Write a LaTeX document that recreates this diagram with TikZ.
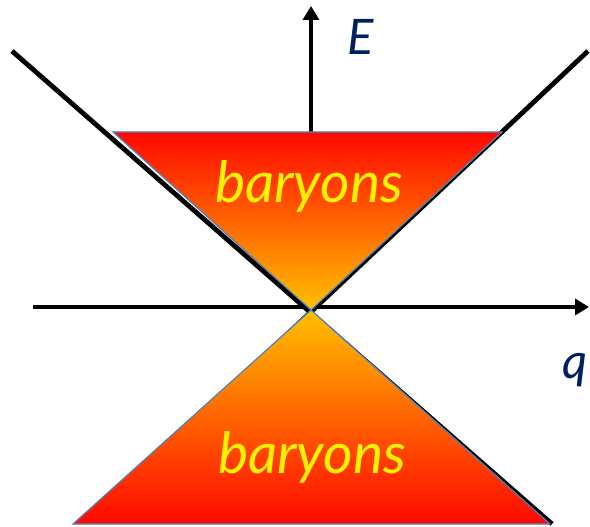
\documentclass[tikz,border=0pt]{standalone}
\usepackage{fontspec}
\setmainfont{Lato}
\usepackage{xcolor}
\usepackage{tikz}
\usetikzlibrary{arrows.meta}

\definecolor{labelblue}{RGB}{0,32,96}
\definecolor{edgeblue}{RGB}{79,129,189}
\definecolor{hotred}{RGB}{255,8,0}
\definecolor{midorange}{RGB}{255,110,0}
\definecolor{warmyellow}{RGB}{255,192,0}

\tikzset{
  axis/.style={line width=4.8pt, -{Triangle[length=14pt,width=16pt]}},
  cone/.style={line width=4.8pt},
  band/.style={draw=edgeblue, line width=1.2pt},
  tag/.style={text=yellow, font=\fontsize{57}{57}\selectfont\itshape, anchor=base},
  axlabel/.style={text=labelblue, font=\fontsize{49}{49}\selectfont\itshape, anchor=base}
}

\begin{document}
\begin{tikzpicture}[x=1pt, y=-1pt]
        \useasboundingbox (0,0) rectangle (590,527);

        \coordinate (apex) at (311,310);
        \coordinate (ul) at (113,132);
        \coordinate (ur) at (502,132);
        \coordinate (ll) at (73,524);
        \coordinate (lr) at (550,524);
        \coordinate (xstart) at (33,307);
        \coordinate (xend) at (589,307);
        \coordinate (ystart) at (311,133);
        \coordinate (yend) at (311,6);
        \coordinate (lefttop) at (12,51);
        \coordinate (leftbot) at (552,524);
        \coordinate (righttop) at (588,51);
        \coordinate (rightbot) at (94,516);

        \draw[cone] (lefttop) -- (leftbot);
        \draw[cone] (righttop) -- (rightbot);
        \draw[axis] (xstart) -- (xend);
        \draw[axis] (ystart) -- (yend);

        \draw[band, top color=hotred, middle color=midorange, bottom color=warmyellow] (ul) -- (ur) -- (apex) -- cycle;
        \draw[band, top color=warmyellow, middle color=midorange, bottom color=hotred] (apex) -- (lr) -- (ll) -- cycle;

        \node[tag] (upper) at (309,203) {baryons};
        \node[tag] (lower) at (312,473) {baryons};
        \node[axlabel] (elabel) at (361,55) {E};
        \node[axlabel] (qlabel) at (575,378) {q};
    \end{tikzpicture}
\end{document}
